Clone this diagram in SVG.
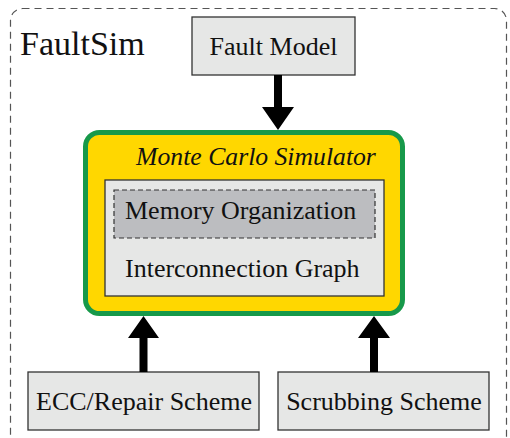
<svg xmlns="http://www.w3.org/2000/svg" width="510" height="438" viewBox="0 0 510 438">
<style>
.t{font-family:"Liberation Serif","Times New Roman",serif;font-size:26px;fill:#111}
.box{fill:#e6e7e6;stroke:#333;stroke-width:1.3}
.arrow{fill:#000}
</style>
<rect width="510" height="438" fill="#fff"/>
<g id="faultsim">
<rect x="10.5" y="8.5" width="496" height="445" rx="12" fill="none" stroke="#555" stroke-width="1.2" stroke-dasharray="7 5"/>
<text class="t" x="20" y="55" style="font-size:34px">FaultSim</text>
</g>
<g id="fault-model">
<rect class="box" x="192" y="17" width="163" height="58"/>
<text class="t" x="273.5" y="55" text-anchor="middle">Fault Model</text>
</g>
<g id="monte-carlo">
<rect x="85.5" y="132.5" width="317" height="181" rx="14" fill="#ffd700" stroke="#17994a" stroke-width="5"/>
<text class="t" x="256" y="165" text-anchor="middle" font-style="italic" style="font-size:25.7px">Monte Carlo Simulator</text>
</g>
<g id="interconnection-graph">
<rect class="box" x="105" y="180" width="279" height="116" stroke="#555" stroke-width="1.2"/>
<text class="t" x="125" y="277">Interconnection Graph</text>
</g>
<g id="memory-organization">
<rect x="114" y="190" width="261" height="48" fill="#bcbdc0" stroke="#333" stroke-width="1.2" stroke-dasharray="5 3"/>
<text class="t" x="125" y="219">Memory Organization</text>
</g>
<g id="ecc">
<rect class="box" x="28" y="372" width="231" height="58"/>
<text class="t" x="144" y="410" text-anchor="middle">ECC/Repair Scheme</text>
</g>
<g id="scrubbing">
<rect class="box" x="278" y="372" width="211" height="58"/>
<text class="t" x="384" y="410" text-anchor="middle">Scrubbing Scheme</text>
</g>
<g id="connectors">
<path class="arrow" d="M274,75 H282 V107 H294 L278,130 L262,107 H274 Z"/>
<path class="arrow" d="M139.5,372 H147.5 V338 H159 L143.5,316 L128,338 H139.5 Z"/>
<path class="arrow" d="M370,372 H378 V338 H390 L374,316 L358,338 H370 Z"/>
</g>
</svg>
